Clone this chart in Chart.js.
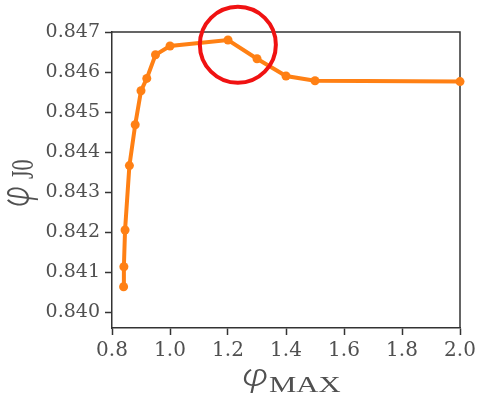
<!DOCTYPE html>
<html>
<head>
<meta charset="utf-8">
<script src="https://cdn.jsdelivr.net/npm/chart.js@4/dist/chart.umd.min.js"></script>
<style>
  html, body { margin: 0; padding: 0; background: #fff; }
  #wrap { width: 482px; height: 401px; }
</style>
</head>
<body>
<div id="wrap"><canvas id="main-chart" width="482" height="401"></canvas></div>
<script>
// phi_MAX on x, phi_J0 on y
const phiMax = [0.84, 0.841, 0.845, 0.86, 0.88, 0.9, 0.92, 0.95, 1.0, 1.2, 1.3, 1.4, 1.5, 2.0];
const phiJ0 = [0.84063, 0.84113, 0.84205, 0.84366, 0.84468, 0.84553, 0.84584, 0.84643, 0.84665, 0.8468, 0.84633, 0.8459, 0.84578, 0.84576];

const xTicks = [0.8, 1.0, 1.2, 1.4, 1.6, 1.8, 2.0];
const yTicks = [0.840, 0.841, 0.842, 0.843, 0.844, 0.845, 0.846, 0.847];

// highlighted region around the peak (data units)
const ringCenter = [1.234, 0.84668];

const orange = "rgb(255, 128, 20)";
const axisColor = "#333";
const textColor = "#505050";
const serif = "'DejaVu Serif', 'Liberation Serif', serif";
const titleSerif = "'Liberation Serif', 'DejaVu Serif', serif";
const phiFont = "italic 300 32px Roboto, 'DejaVu Serif', serif";

const ctx = document.getElementById("main-chart").getContext("2d");

// closes the box on top and right
const framePlugin = {
  id: "frame",
  beforeDatasetsDraw(chart) {
    const { ctx, chartArea: a } = chart;
    ctx.save();
    ctx.strokeStyle = axisColor;
    ctx.lineWidth = 1.5;
    ctx.beginPath();
    ctx.moveTo(a.left, a.top);
    ctx.lineTo(a.right, a.top);
    ctx.lineTo(a.right, a.bottom);
    ctx.stroke();
    ctx.restore();
  },
};

// draws text scaled by (sx, sy) at (x, y)
function stretched(c, text, font, x, y, sx, sy) {
  c.save();
  c.translate(x, y);
  c.scale(sx, sy);
  c.font = font;
  c.fillText(text, 0, 0);
  c.restore();
}

// axis titles with italic phi and roman subscripts
const titlePlugin = {
  id: "axisTitles",
  afterDraw(chart) {
    const c = chart.ctx;
    c.save();
    c.fillStyle = textColor;
    c.textBaseline = "alphabetic";
    c.textAlign = "left";

    // x title
    stretched(c, "\u03C6", phiFont, 242, 386, 1.25, 1);
    stretched(c, "MAX", "24px " + titleSerif, 269, 392, 1.28, 1);

    // y title, reads bottom to top
    c.save();
    c.translate(29, 207);
    c.rotate(-Math.PI / 2);
    stretched(c, "\u03C6", phiFont, 0, 0, 1, 1.25);
    stretched(c, "J0", "22px " + titleSerif, 28, 4, 1, 1.4);
    c.restore();

    c.restore();
  },
};

const ringPlugin = {
  id: "ring",
  afterDraw(chart) {
    const c = chart.ctx;
    const cx = chart.scales.x.getPixelForValue(ringCenter[0]);
    const cy = chart.scales.y.getPixelForValue(ringCenter[1]);
    c.save();
    c.strokeStyle = "#f01212";
    c.lineWidth = 4;
    c.beginPath();
    c.arc(cx, cy, 38, 0, Math.PI * 2);
    c.stroke();
    c.restore();
  },
};

new Chart(ctx, {
  type: "scatter",
  data: {
    datasets: [
      {
        data: phiMax.map((v, i) => ({ x: v, y: phiJ0[i] })),
        showLine: true,
        borderColor: orange,
        backgroundColor: orange,
        borderWidth: 4,
        pointRadius: 4.5,
        pointBorderWidth: 0,
        tension: 0,
        clip: false,
      },
    ],
  },
  options: {
    responsive: false,
    animation: false,
    layout: { padding: { left: 0, top: 32, right: 22, bottom: 0 } },
    scales: {
      x: {
        type: "linear",
        min: 0.8,
        max: 2.0,
        afterBuildTicks: (scale) => {
          scale.ticks = xTicks.map((v) => ({ value: v }));
        },
        afterFit: (scale) => {
          scale.height = 73;
        },
        grid: {
          drawOnChartArea: false,
          drawTicks: true,
          tickLength: 7,
          tickWidth: 1.5,
          tickColor: axisColor,
        },
        border: { color: axisColor, width: 1.5 },
        ticks: {
          padding: 4,
          color: textColor,
          font: { family: serif, size: 20 },
          maxRotation: 0,
          autoSkip: false,
          callback: (v) => Number(v).toFixed(1),
        },
      },
      y: {
        type: "linear",
        min: 0.8396,
        max: 0.847,
        afterBuildTicks: (scale) => {
          scale.ticks = yTicks.map((v) => ({ value: v }));
        },
        afterFit: (scale) => {
          scale.width = 112;
        },
        grid: {
          drawOnChartArea: false,
          drawTicks: true,
          tickLength: 7,
          tickWidth: 1.5,
          tickColor: axisColor,
        },
        border: { color: axisColor, width: 1.5 },
        ticks: {
          padding: 5,
          color: textColor,
          font: { family: serif, size: 19 },
          autoSkip: false,
          callback: (v) => Number(v).toFixed(3),
        },
      },
    },
    plugins: {
      legend: { display: false },
      tooltip: { enabled: false },
    },
  },
  plugins: [framePlugin, titlePlugin, ringPlugin],
});
</script>
</body>
</html>
